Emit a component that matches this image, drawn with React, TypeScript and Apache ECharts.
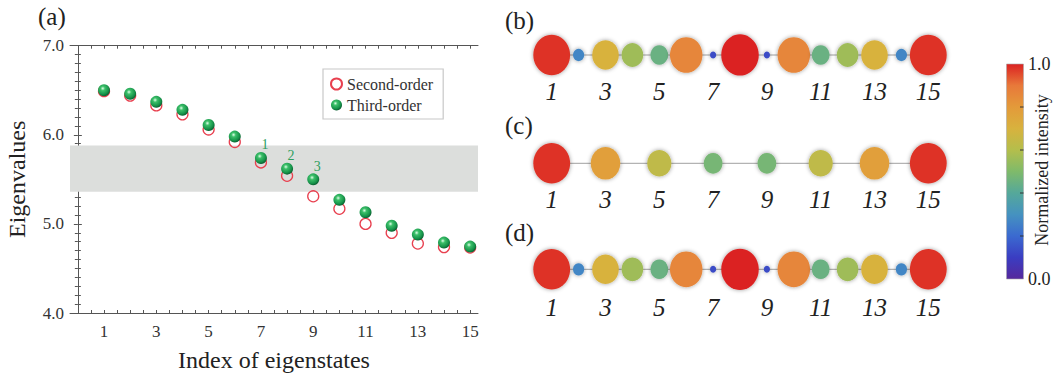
import React, { useEffect, useRef } from "react";
import * as echarts from "echarts";

// ---------- Panel (a) data ----------
const indices = [1, 2, 3, 4, 5, 6, 7, 8, 9, 10, 11, 12, 13, 14, 15];
const secondOrder = [6.49, 6.44, 6.33, 6.23, 6.06, 5.92, 5.69, 5.54, 5.31, 5.17, 5.0, 4.9, 4.78, 4.74, 4.735];
const thirdOrder = [6.5, 6.46, 6.37, 6.28, 6.11, 5.98, 5.74, 5.62, 5.5, 5.27, 5.13, 4.98, 4.88, 4.79, 4.745];
const bandRange = [5.36, 5.88];
const annotatedIdx = [7, 8, 9];
const annotatedText = ["1", "2", "3"];
const xTickLabels = [1, 3, 5, 7, 9, 11, 13, 15];
const xMinorTicks = [0, 0.5, 1, 1.5, 2, 2.5, 3, 3.5, 4, 4.5, 5, 5.5, 6, 6.5, 7, 7.5, 8, 8.5, 9, 9.5, 10, 10.5, 11, 11.5, 12, 12.5, 13, 13.5, 14, 14.5, 15];

// ---------- Panels (b)-(d) data ----------
const sitesAll = [1, 2, 3, 4, 5, 6, 7, 8, 9, 10, 11, 12, 13, 14, 15];
const intensityB = [0.98, 0.27, 0.7, 0.56, 0.45, 0.86, 0.13, 1.0, 0.13, 0.86, 0.45, 0.56, 0.7, 0.27, 0.98];
const sitesC = [1, 3, 5, 7, 9, 11, 13, 15];
const intensityC = [0.98, 0.78, 0.63, 0.48, 0.48, 0.63, 0.78, 0.98];
const intensityD = [0.98, 0.27, 0.7, 0.56, 0.45, 0.86, 0.13, 1.0, 0.13, 0.86, 0.45, 0.56, 0.7, 0.27, 0.98];
const siteLabels = [1, 3, 5, 7, 9, 11, 13, 15];
const colorbarTicks = [0.2, 0.4, 0.6, 0.8];

const paletteColors = [
  "#55289c", "#3a3dc2", "#3b6ad0", "#4592c0", "#55a89a", "#7fba6a",
  "#b4be4c", "#d8b23e", "#e39a3a", "#e8793a", "#db2222",
];

const FONT = "Liberation Serif, Times New Roman, serif";

const nodeSize = (v: number) => 1.5 + 36 * v;

const sphere = {
  type: "radial",
  x: 0.4,
  y: 0.35,
  r: 0.65,
  colorStops: [
    { offset: 0, color: "#e0ffe9" },
    { offset: 0.28, color: "#3cbf69" },
    { offset: 0.75, color: "#16934a" },
    { offset: 1, color: "#0a5f30" },
  ],
};

function buildOption() {
  const axisLineStyle = { color: "#555", width: 1 };

  // chain panels use grid k (1..3) with axis index k + 1
  const chainLine = (k: number, xs: number[]) => ({
    type: "line",
    xAxisIndex: k + 1,
    yAxisIndex: k + 1,
    data: xs.map((x) => [x, 0]),
    symbol: "none",
    silent: true,
    lineStyle: { color: "#a0a0a0", width: 1 },
    z: 1,
  });
  const chainNodes = (k: number, xs: number[], vs: number[]) => ({
    type: "scatter",
    xAxisIndex: k + 1,
    yAxisIndex: k + 1,
    data: xs.map((x, i) => [x, 0, vs[i]]),
    symbolSize: (d: number[]) => [nodeSize(d[2]), nodeSize(d[2]) * 1.1],
    itemStyle: { opacity: 1, shadowBlur: 4, shadowColor: "rgba(0,0,0,0.4)" },
    silent: true,
    z: 2,
  });

  const chainX = (k: number, margin: number) => ({
    type: "value",
    gridIndex: k,
    min: 0,
    max: 16,
    axisLine: { show: false },
    axisTick: { show: false },
    splitLine: { show: false },
    axisLabel: {
      customValues: siteLabels,
      fontFamily: FONT,
      fontStyle: "italic",
      fontSize: 25,
      color: "#222",
      margin,
    },
  });
  const chainY = (k: number) => ({ type: "value", gridIndex: k, min: -1, max: 1, show: false });

  const cbTop = 64;
  const cbH = 215;
  const cbX = 1006.5;
  const cbW = 17;

  return {
    animation: false,
    backgroundColor: "#fff",
    textStyle: { fontFamily: FONT },
    grid: [
      { left: 70, top: 45.7, width: 408, height: 267.3 },
      { left: 524.8, top: 35, width: 430.4, height: 40 },
      { left: 524.8, top: 143.3, width: 430.4, height: 40 },
      { left: 524.8, top: 249.3, width: 430.4, height: 40 },
    ],
    legend: {
      data: ["Second-order", "Third-order"],
      orient: "vertical",
      left: 323,
      top: 69,
      itemWidth: 11,
      itemHeight: 11,
      itemGap: 5,
      padding: [7, 10, 6, 7],
      borderColor: "#c8c8c8",
      borderWidth: 1.2,
      textStyle: { fontFamily: FONT, fontSize: 16, color: "#333" },
    },
    visualMap: {
      type: "continuous",
      show: false,
      min: 0,
      max: 1,
      dimension: 2,
      seriesIndex: [5, 6, 7],
      inRange: { color: paletteColors },
    },
    xAxis: [
      {
        type: "value",
        gridIndex: 0,
        min: -0.3,
        max: 15.3,
        name: "Index of eigenstates",
        nameLocation: "middle",
        nameGap: 35,
        nameTextStyle: { fontFamily: FONT, fontSize: 24, color: "#222" },
        axisLine: { show: true, lineStyle: axisLineStyle },
        axisTick: { show: true, inside: true, length: 3, customValues: xMinorTicks, lineStyle: axisLineStyle },
        axisLabel: { customValues: xTickLabels, fontFamily: FONT, fontSize: 17, color: "#333", margin: 10 },
        splitLine: { show: false },
      },
      {
        type: "value",
        gridIndex: 0,
        position: "top",
        min: -0.3,
        max: 15.3,
        axisLine: { show: true, lineStyle: axisLineStyle },
        axisTick: { show: true, inside: true, length: 3, customValues: xMinorTicks, lineStyle: axisLineStyle },
        axisLabel: { show: false },
        splitLine: { show: false },
      },
      chainX(1, 4),
      chainX(2, 4),
      chainX(3, 6),
    ],
    yAxis: [
      {
        type: "value",
        gridIndex: 0,
        min: 4,
        max: 7,
        interval: 1,
        name: "Eigenvalues",
        nameLocation: "middle",
        nameGap: 41,
        nameTextStyle: { fontFamily: FONT, fontSize: 24, color: "#222" },
        axisLine: { show: true, lineStyle: axisLineStyle },
        axisTick: { show: true, inside: true, length: 4, lineStyle: axisLineStyle },
        minorTick: { show: true, splitNumber: 10, length: 3, lineStyle: axisLineStyle },
        axisLabel: {
          fontFamily: FONT,
          fontSize: 17,
          color: "#333",
          margin: 6,
          formatter: (v: number) => v.toFixed(1),
        },
        splitLine: { show: false },
      },
      {
        type: "value",
        gridIndex: 0,
        position: "right",
        min: 4,
        max: 7,
        interval: 1,
        axisLine: { show: true, lineStyle: axisLineStyle },
        axisTick: { show: true, inside: true, length: 4, lineStyle: axisLineStyle },
        minorTick: { show: true, splitNumber: 10, length: 3, lineStyle: axisLineStyle },
        axisLabel: { show: false },
        splitLine: { show: false },
      },
      chainY(1),
      chainY(2),
      chainY(3),
    ],
    series: [
      {
        name: "Second-order",
        type: "scatter",
        xAxisIndex: 0,
        yAxisIndex: 0,
        data: indices.map((x, i) => [x, secondOrder[i]]),
        symbol: "circle",
        symbolSize: 11,
        itemStyle: { opacity: 1, color: "rgba(255,255,255,0)", borderColor: "#e8404f", borderWidth: 1.3 },
        markArea: {
          silent: true,
          itemStyle: { color: "#dcdedc" },
          data: [[{ yAxis: bandRange[0] }, { yAxis: bandRange[1] }]],
        },
        z: 2,
      },
      {
        name: "Third-order",
        type: "scatter",
        xAxisIndex: 0,
        yAxisIndex: 0,
        data: indices.map((x, i) => {
          const k = annotatedIdx.indexOf(x);
          const item: any = { value: [x, thirdOrder[i]] };
          if (k >= 0) {
            item.label = {
              show: true,
              formatter: annotatedText[k],
              position: "inside",
              offset: [4, -13],
              color: "#2f9e5e",
              fontFamily: FONT,
              fontSize: 14,
            };
          }
          return item;
        }),
        symbol: "circle",
        symbolSize: 12,
        itemStyle: { opacity: 1, color: sphere },
        z: 3,
      },
      chainLine(1, sitesAll),
      chainLine(2, sitesC),
      chainLine(3, sitesAll),
      chainNodes(1, sitesAll, intensityB),
      chainNodes(2, sitesC, intensityC),
      chainNodes(3, sitesAll, intensityD),
    ],
    graphic: [
      { type: "text", x: 38, y: 16, style: { text: "(a)", fontFamily: FONT, fontSize: 25, fill: "#222", verticalAlign: "middle" } },
      { type: "text", x: 505, y: 20, style: { text: "(b)", fontFamily: FONT, fontSize: 25, fill: "#222", verticalAlign: "middle" } },
      { type: "text", x: 505, y: 125, style: { text: "(c)", fontFamily: FONT, fontSize: 25, fill: "#222", verticalAlign: "middle" } },
      { type: "text", x: 505, y: 232, style: { text: "(d)", fontFamily: FONT, fontSize: 25, fill: "#222", verticalAlign: "middle" } },
      {
        type: "rect",
        shape: { x: cbX, y: cbTop, width: cbW, height: cbH },
        style: {
          fill: new echarts.graphic.LinearGradient(
            0, 1, 0, 0,
            paletteColors.map((c, i) => ({ offset: i / (paletteColors.length - 1), color: c }))
          ),
          stroke: "#aaa",
          lineWidth: 0.6,
        },
      },
      ...colorbarTicks.map((v) => ({
        type: "line",
        shape: { x1: cbX + cbW - 3.5, y1: cbTop + cbH * (1 - v), x2: cbX + cbW, y2: cbTop + cbH * (1 - v) },
        style: { stroke: "#333", lineWidth: 1 },
      })),
      { type: "text", x: 1028, y: cbTop, style: { text: "1.0", fontFamily: FONT, fontSize: 18, fill: "#222", verticalAlign: "middle" } },
      { type: "text", x: 1028, y: cbTop + cbH, style: { text: "0.0", fontFamily: FONT, fontSize: 18, fill: "#222", verticalAlign: "middle" } },
      {
        type: "text",
        x: 1042,
        y: 170,
        rotation: Math.PI / 2,
        style: { text: "Normalized intensity", fontFamily: FONT, fontSize: 18, fill: "#222", align: "center", verticalAlign: "middle" },
      },
    ],
  };
}

export default function App() {
  const ref = useRef<HTMLDivElement>(null);
  useEffect(() => {
    if (!ref.current) return;
    const chart = echarts.init(ref.current, null, { renderer: "svg" });
    chart.setOption(buildOption() as any);
    return () => chart.dispose();
  }, []);
  return (
    <div
      ref={ref}
      style={{ position: "absolute", left: 0, top: 0, width: 1059, height: 378, background: "#fff" }}
    />
  );
}
